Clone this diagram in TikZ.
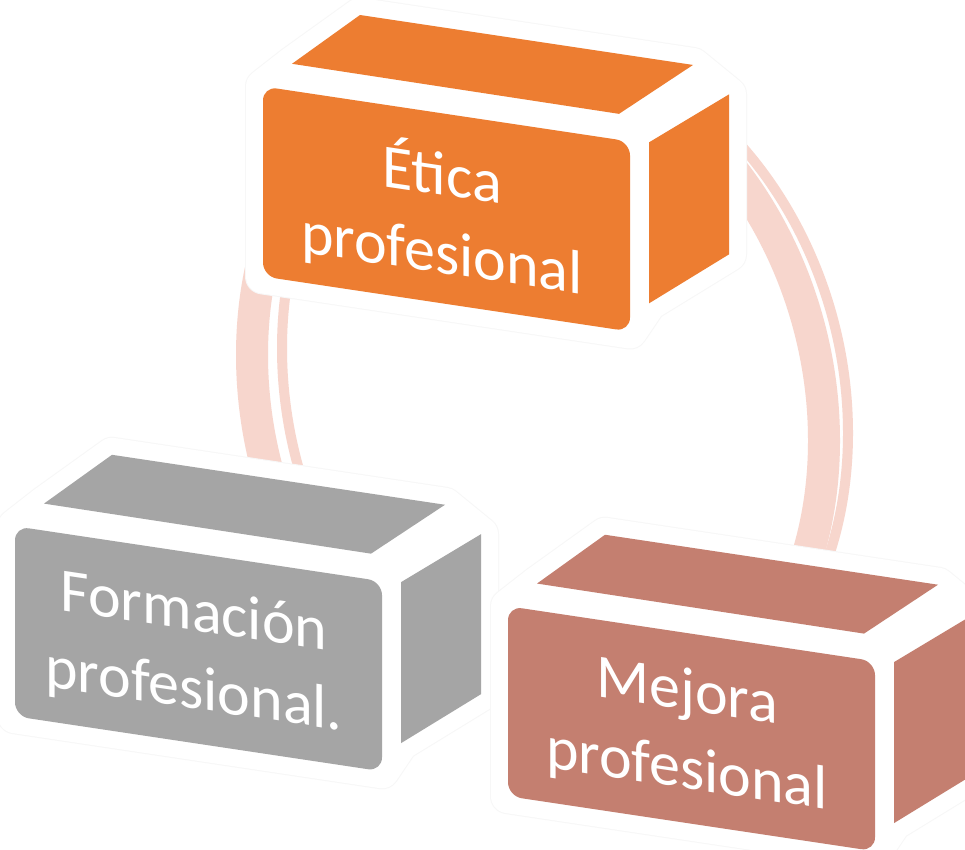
\documentclass[tikz,border=0pt]{standalone}
\usepackage{fontspec}
\setmainfont{Carlito}
\definecolor{acOrange}{RGB}{237,125,49}
\definecolor{acGray}{RGB}{165,165,165}
\definecolor{acRose}{RGB}{196,127,112}
\definecolor{ringPink}{RGB}{247,214,205}
\tikzset{
  haloedge/.style={draw=black!3, line width=36pt, line join=round},
  halo/.style={draw=white, fill=white, line width=34pt, line join=round},
  face/.style={fill=#1},
  frontface/.style={fill=#1, rounded corners=14pt},
  boxtext/.style={text=white, font=\fontsize{62}{78}\selectfont, align=center, transform shape, inner sep=0pt},
  ringthick/.style={draw=ringPink, line width=32pt},
  ringthin/.style={draw=ringPink, line width=10pt},
}
\newcommand\mybox[5]{%
  \draw[haloedge] (#1,#2+190) -- (#1,#2) -- (#1+29,#2-27) -- (#1+97,#2-86) -- (#1+430,#2-86) -- (#1+466,#2-62) -- (#1+466,#2+98) -- (#1+386,#2+159) -- (#1+367,#2+190) -- cycle;
  \draw[halo] (#1,#2+190) -- (#1,#2) -- (#1+29,#2-27) -- (#1+97,#2-86) -- (#1+430,#2-86) -- (#1+466,#2-62) -- (#1+466,#2+98) -- (#1+386,#2+159) -- (#1+367,#2+190) -- cycle;
  \fill[frontface=#3] (#1,#2) rectangle (#1+367,#2+190);
  \fill[face=#3] (#1+29,#2-27) -- (#1+97,#2-86) -- (#1+430,#2-86) -- (#1+356,#2-26) -- cycle;
  \fill[face=#3] (#1+386,#2-2) -- (#1+466,#2-62) -- (#1+466,#2+98) -- (#1+386,#2+159) -- cycle;
  \node[boxtext] (#4) at (#1+179,#2+100) {#5};
}
\begin{document}
\begin{tikzpicture}[x=1pt,y=-1pt]
\useasboundingbox (0,0) rectangle (965,849);
\clip (0,0) rectangle (965,849);
\fill[white] (0,0) rectangle (965,849);
\begin{scope}[yslant=-0.15]
  \begin{scope}
    \clip (0,-200) rectangle (965,500);
    \draw[ringthick] (538,317) ellipse [x radius=286, y radius=350];
    \draw[ringthin] (565,306) ellipse [x radius=283, y radius=347];
  \end{scope}
  \mybox{263}{47}{acOrange}{etica}{Ética\\profesional}
  \mybox{15}{524}{acGray}{formacion}{Formación\\profesional.}
  \mybox{508}{530}{acRose}{mejora}{Mejora\\profesional}
\end{scope}
\end{tikzpicture}
\end{document}
